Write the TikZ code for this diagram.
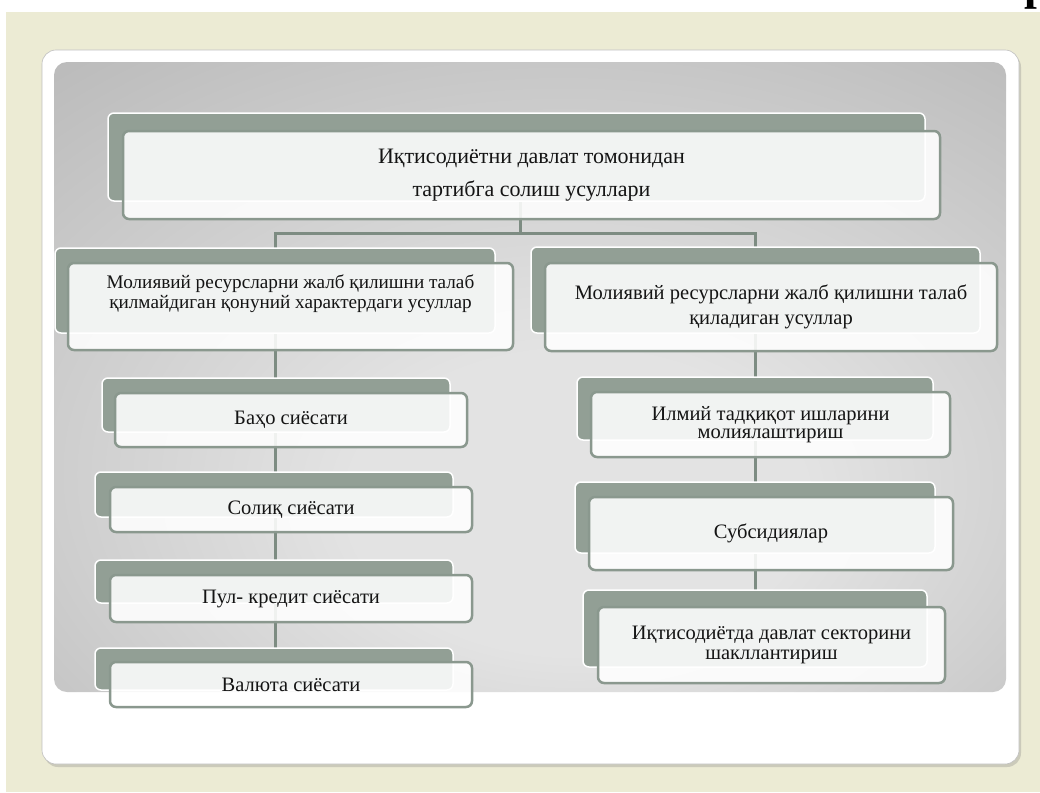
\documentclass[tikz,border=0pt]{standalone}
\usepackage{fontspec}
\setmainfont{Liberation Serif}
\usetikzlibrary{shadows}
\definecolor{page}{HTML}{ECEBD4}
\definecolor{tabgreen}{HTML}{929F95}
\definecolor{rimgreen}{HTML}{8A988E}
\definecolor{linkgreen}{HTML}{7D8C82}
\definecolor{panellight}{HTML}{E3E3E3}
\definecolor{paneldark}{HTML}{A0A0A0}
\pgfdeclarelayer{panel}
\pgfdeclarelayer{links}
\pgfsetlayers{panel,links,main}
\pgfdeclareradialshading{panelshade}{\pgfpoint{3bp}{-12bp}}{color(0bp)=(panellight); color(12bp)=(panellight); color(45bp)=(paneldark!70!panellight); color(72bp)=(paneldark)}
\tikzset{
	tabbox/.style={draw=white, line width=1.5pt, fill=tabgreen, rounded corners=6pt, inner sep=0pt},
	frontbox/.style={draw=rimgreen, line width=2.5pt, fill=white, fill opacity=0.88, text opacity=1, rounded corners=6pt, inner sep=0pt, text=black!92, align=center, font=\fontsize{20.5}{20}\selectfont},
	link/.style={draw=linkgreen, line width=3pt},
}
\begin{document}
\begin{tikzpicture}[x=1pt, y=-1pt]
	\useasboundingbox (0,0) rectangle (1040,792);
	\begin{pgfonlayer}{panel}
	\fill[white] (0,0) rectangle (1040,792);
	\fill[page] (6,12) rectangle (1040,792);
	\fill[white, draw=black!25, line width=0.6pt, rounded corners=14pt, drop shadow={shadow xshift=2pt, shadow yshift=-3pt, opacity=0.3}] (42,50) rectangle (1019,764);
	\shade[shading=panelshade, rounded corners=13pt] (54,62) rectangle (1006,692);
	\end{pgfonlayer}
	\node[anchor=base west, inner sep=0pt, font=\bfseries\fontsize{46}{46}\selectfont] (corner) at (1024,0) {р};
	% top level
	\node[tabbox, minimum width=817pt, minimum height=88pt] (toptab) at (516.5,157) {};
	\node[frontbox, minimum width=817pt, minimum height=88pt, font=\fontsize{22}{33}\selectfont] (top) at (531.5,175) {Иқтисодиётни давлат томонидан\\тартибга солиш усуллари};
	% second level
	\node[tabbox, minimum width=440pt, minimum height=85pt] (ltab) at (275,290.5) {};
	\node[frontbox, minimum width=445pt, minimum height=87pt] (left) at (290.5,306.5) {};
	\node[text=black!92, align=center, font=\fontsize{19.2}{20}\selectfont] (lefttext) at ([yshift=13pt]left.center) {Молиявий ресурсларни жалб қилишни талаб\\қилмайдиган қонуний характердаги усуллар};
	\node[tabbox, minimum width=449pt, minimum height=86pt] (rtab) at (755.5,290) {};
	\node[frontbox, minimum width=452pt, minimum height=88pt, font=\fontsize{20.5}{25}\selectfont] (right) at (771,307) {Молиявий ресурсларни жалб қилишни талаб\\қиладиган усуллар};
	% left column
	\node[tabbox, minimum width=348pt, minimum height=54pt] (bahotab) at (276,405) {};
	\node[frontbox, minimum width=352pt, minimum height=54pt] (baho) at (291,420) {Баҳо сиёсати};
	\node[tabbox, minimum width=358pt, minimum height=45pt] (soliqtab) at (274,494.5) {};
	\node[frontbox, minimum width=362pt, minimum height=45pt] (soliq) at (291,509.5) {Солиқ сиёсати};
	\node[tabbox, minimum width=358pt, minimum height=43pt] (pultab) at (274,581.5) {};
	\node[frontbox, minimum width=362pt, minimum height=47pt] (pul) at (291,598.5) {Пул- кредит сиёсати};
	\node[tabbox, minimum width=358pt, minimum height=42pt] (valtab) at (274,669) {};
	\node[frontbox, minimum width=362pt, minimum height=45pt] (valyuta) at (291,684.5) {Валюта сиёсати};
	% right column
	\node[tabbox, minimum width=356pt, minimum height=63pt] (ilmtab) at (755,408.5) {};
	\node[frontbox, minimum width=359pt, minimum height=65pt, font=\fontsize{20.5}{18.5}\selectfont] (ilmiy) at (770.5,424.5) {Илмий тадқиқот ишларини\\молиялаштириш};
	\node[tabbox, minimum width=360pt, minimum height=71pt] (subtab) at (755,517.5) {};
	\node[frontbox, minimum width=364pt, minimum height=73pt] (subsidiya) at (771,533.5) {Субсидиялар};
	\node[tabbox, minimum width=344pt, minimum height=77pt] (iqtab) at (755,628.5) {};
	\node[frontbox, minimum width=347pt, minimum height=76pt] (iqtisod) at (771.5,645) {Иқтисодиётда давлат секторини\\шакллантириш};
	% connectors
	\begin{pgfonlayer}{links}
	\coordinate (fork) at (520,233);
	\draw[link] (fork |- toptab.center) -- (fork);
	\draw[link] (ltab.center) |- (fork) -| (rtab.center);
	\draw[link] (ltab.center) -- (ltab.center |- valtab.center);
	\draw[link] (rtab.center) -- (rtab.center |- iqtab.center);
	\end{pgfonlayer}
\end{tikzpicture}
\end{document}
